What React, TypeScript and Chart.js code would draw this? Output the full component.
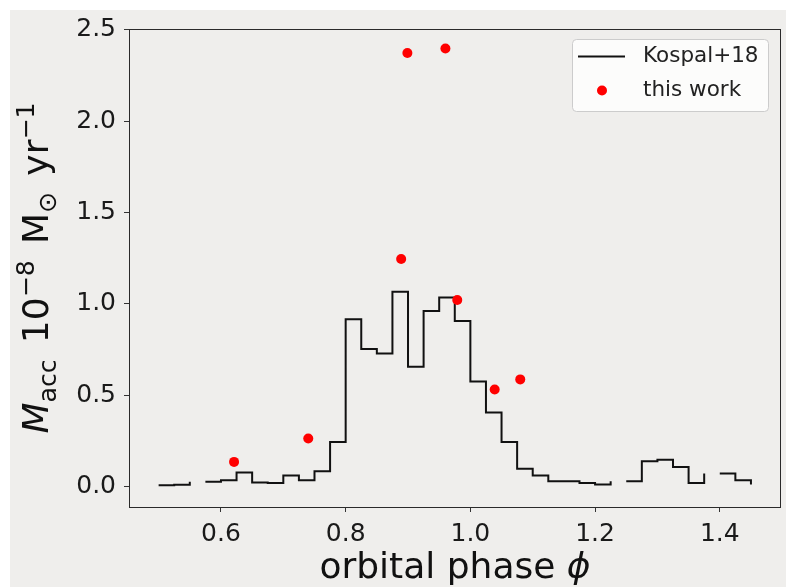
import React, { useEffect, useRef } from "react";
import { Chart, registerables } from "chart.js";
Chart.register(...registerables);

// Kospal+18 binned accretion rate (bin left edges; null = gap)
const kospalPhase = [
  0.5, 0.525, 0.55, 0.5625,
  0.575, 0.6, 0.625, 0.65, 0.675, 0.7, 0.725, 0.75, 0.775,
  0.8, 0.825, 0.85, 0.875, 0.9, 0.925, 0.95, 0.975,
  1.0, 1.025, 1.05, 1.075, 1.1, 1.125, 1.15, 1.175,
  1.2, 1.225, 1.2375,
  1.25, 1.275, 1.3, 1.325, 1.35, 1.375, 1.3875,
  1.4, 1.425, 1.45,
];
const kospalRate = [
  0.010, 0.012, 0.028, null,
  0.028, 0.037, 0.079, 0.024, 0.022, 0.062, 0.037, 0.086, 0.246,
  0.916, 0.754, 0.730, 1.067, 0.657, 0.962, 1.035, 0.907,
  0.577, 0.407, 0.246, 0.100, 0.062, 0.031, 0.031, 0.022,
  0.013, 0.031, null,
  0.031, 0.141, 0.149, 0.109, 0.022, 0.073, null,
  0.073, 0.037, 0.013,
];

// this work
const thisWorkPhase = [0.621, 0.740, 0.889, 0.899, 0.960, 0.979, 1.039, 1.080];
const thisWorkRate = [0.137, 0.265, 1.246, 2.372, 2.396, 1.022, 0.533, 0.588];

const xTicks = [0.6, 0.8, 1.0, 1.2, 1.4];
const yTicks = [0.0, 0.5, 1.0, 1.5, 2.0, 2.5];
const xMin = 0.4525;
const xMax = 1.4982;
const yMin = -0.1095;
const yMax = 2.503;

const legendLabels = ["Kospal+18", "this work"];
const xTitle = "orbital phase ";
const xTitleSymbol = "\u03D5";

const FAMILY = "'DejaVu Sans', sans-serif";
const LABEL_SIZE = 36;

type Part = { t: string; s: number; dy: number; italic?: boolean; gap?: number };
const yTitleParts: Part[] = [
  { t: "M", s: 1, dy: 0, italic: true },
  { t: "acc", s: 0.7, dy: 0.22, gap: 0.45 },
  { t: "10", s: 1, dy: 0 },
  { t: "\u22128", s: 0.7, dy: -0.38, gap: 0.45 },
  { t: "M", s: 1, dy: 0 },
  { t: "\u2299", s: 0.7, dy: 0.22, gap: 0.45 },
  { t: "yr", s: 1, dy: 0 },
  { t: "\u22121", s: 0.7, dy: -0.38 },
];

const decor = {
  id: "decor",
  beforeDraw(chart: any) {
    const ctx = chart.ctx;
    ctx.save();
    ctx.fillStyle = "#ffffff";
    ctx.fillRect(0, 0, chart.width, chart.height);
    ctx.fillStyle = "#efeeec";
    ctx.fillRect(10, 10, chart.width - 10, chart.height - 10);
    ctx.restore();
  },
  afterDraw(chart: any) {
    const ctx = chart.ctx;
    const a = chart.chartArea;
    ctx.save();
    // spines
    ctx.strokeStyle = "#2a2a2a";
    ctx.lineWidth = 1;
    ctx.strokeRect(
      Math.round(a.left) + 0.5,
      Math.round(a.top) + 0.5,
      Math.round(a.right - a.left) - 1,
      Math.round(a.bottom - a.top)
    );

    // legend
    const bx = a.right - 209;
    const by = a.top + 10;
    const bw = 196;
    const bh = 72;
    ctx.beginPath();
    ctx.roundRect(bx + 0.5, by + 0.5, bw, bh, 4);
    ctx.fillStyle = "rgba(255,255,255,0.8)";
    ctx.fill();
    ctx.strokeStyle = "#cccccc";
    ctx.lineWidth = 1;
    ctx.stroke();

    const row1 = by + 17.5;
    const row2 = by + 51.5;
    ctx.strokeStyle = "#111111";
    ctx.lineWidth = 2;
    ctx.beginPath();
    ctx.moveTo(bx + 6, row1);
    ctx.lineTo(bx + 53, row1);
    ctx.stroke();
    ctx.fillStyle = "#ff0000";
    ctx.beginPath();
    ctx.arc(bx + 30, row2, 5, 0, Math.PI * 2);
    ctx.fill();
    ctx.fillStyle = "#222222";
    ctx.font = `21.5px ${FAMILY}`;
    ctx.textBaseline = "middle";
    ctx.textAlign = "left";
    ctx.fillText(legendLabels[0], bx + 71, row1);
    ctx.fillText(legendLabels[1], bx + 71, row2);

    // x title
    ctx.fillStyle = "#111111";
    ctx.textBaseline = "alphabetic";
    ctx.font = `${LABEL_SIZE}px ${FAMILY}`;
    const w1 = ctx.measureText(xTitle).width;
    ctx.font = `italic ${LABEL_SIZE}px ${FAMILY}`;
    const w2 = ctx.measureText(xTitleSymbol).width;
    const cx = (a.left + a.right) / 2;
    const sx = cx - (w1 + w2) / 2;
    ctx.font = `${LABEL_SIZE}px ${FAMILY}`;
    ctx.fillText(xTitle, sx, 578);
    ctx.font = `italic ${LABEL_SIZE}px ${FAMILY}`;
    ctx.fillText(xTitleSymbol, sx + w1, 578);

    // y title (rotated)
    const S = LABEL_SIZE;
    let total = 0;
    const widths: number[] = [];
    for (const p of yTitleParts) {
      ctx.font = `${p.italic ? "italic " : ""}${p.s * S}px ${FAMILY}`;
      const w = ctx.measureText(p.t).width;
      widths.push(w);
      total += w + (p.gap || 0) * S;
    }
    const cy = (a.top + a.bottom) / 2;
    ctx.translate(48, cy);
    ctx.rotate(-Math.PI / 2);
    let px = -total / 2;
    yTitleParts.forEach((p, i) => {
      ctx.font = `${p.italic ? "italic " : ""}${p.s * S}px ${FAMILY}`;
      ctx.fillText(p.t, px, p.dy * S);
      px += widths[i] + (p.gap || 0) * S;
    });
    ctx.restore();
  },
};

export default function App() {
  const ref = useRef<HTMLCanvasElement>(null);
  useEffect(() => {
    const canvas = ref.current!;
    const tickFont = { family: FAMILY, size: 25 };
    const chart = new Chart(canvas, {
      type: "scatter",
      data: {
        datasets: [
          {
            label: legendLabels[0],
            type: "line",
            data: kospalPhase.map((x, i) => ({ x, y: kospalRate[i] })) as any,
            stepped: "before",
            borderColor: "#111111",
            borderWidth: 2,
            pointRadius: 0,
            fill: false,
            spanGaps: false,
            order: 2,
          } as any,
          {
            label: legendLabels[1],
            type: "scatter",
            data: thisWorkPhase.map((x, i) => ({ x, y: thisWorkRate[i] })),
            pointRadius: 5,
            pointHoverRadius: 5,
            backgroundColor: "#ff0000",
            borderWidth: 0,
            order: 1,
          },
        ],
      },
      options: {
        responsive: false,
        animation: false,
        devicePixelRatio: 1,
        events: [],
        layout: { padding: { top: 29, right: 0, left: 0, bottom: 0 } },
        plugins: { legend: { display: false }, tooltip: { enabled: false } },
        scales: {
          x: {
            type: "linear",
            min: xMin,
            max: xMax,
            afterFit: (s: any) => {
              s.height = 80;
            },
            afterBuildTicks: (s: any) => {
              s.ticks = xTicks.map((v) => ({ value: v }));
            },
            ticks: {
              callback: (v: any) => Number(v).toFixed(1),
              font: tickFont,
              color: "#1a1a1a",
              padding: 7,
              maxRotation: 0,
              autoSkip: false,
            },
            grid: {
              drawOnChartArea: false,
              drawTicks: true,
              tickLength: 5,
              color: "#333333",
            },
            border: { display: false },
          },
          y: {
            type: "linear",
            min: yMin,
            max: yMax,
            afterFit: (s: any) => {
              s.width = 129;
            },
            afterBuildTicks: (s: any) => {
              s.ticks = yTicks.map((v) => ({ value: v }));
            },
            ticks: {
              callback: (v: any) => Number(v).toFixed(1),
              font: tickFont,
              color: "#1a1a1a",
              padding: 8,
              autoSkip: false,
            },
            grid: {
              drawOnChartArea: false,
              drawTicks: true,
              tickLength: 5,
              color: "#333333",
            },
            border: { display: false },
          },
        },
      },
      plugins: [decor],
    });
    return () => chart.destroy();
  }, []);
  return (
    <div style={{ position: "fixed", left: 0, top: 0, width: 786, height: 587 }}>
      <canvas ref={ref} width={786} height={587} style={{ display: "block" }} />
    </div>
  );
}
